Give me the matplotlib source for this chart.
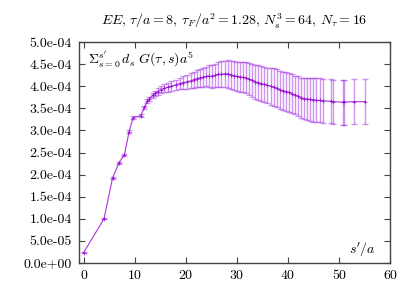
import matplotlib
matplotlib.use("Agg")
import matplotlib.pyplot as plt
from matplotlib.ticker import FixedLocator, FuncFormatter

plt.rcParams['mathtext.fontset'] = 'cm'
plt.rcParams['font.family'] = ['cmr10', 'DejaVu Serif']
plt.rcParams['axes.unicode_minus'] = False

# s'/a values
x_vals = [0, 4.0, 5.66, 6.93, 8.0, 8.9, 9.7, 11.2, 11.9, 12.5, 12.9, 13.5,
          14.0, 14.6, 15.2, 15.8, 16.5, 17.2, 18.0, 18.8, 19.5, 20.2, 21.0,
          21.6, 22.2, 22.8, 23.4, 24.0, 24.6, 25.2, 25.8, 26.4, 27.0, 27.6,
          28.2, 28.8, 29.4, 30.0, 30.6, 31.2, 31.8, 32.4, 33.0, 33.6, 34.2,
          34.8, 35.4, 36.0, 36.6, 37.2, 37.8, 38.4, 39.0, 39.6, 40.2, 40.8,
          41.4, 42.0, 42.6, 43.2, 43.8, 44.4, 45.0, 45.6, 46.2, 46.8, 48.4,
          48.9, 50.7, 51.0, 52.9, 55.2]
# sum values in units of 1e-4
y_vals = [0.235, 1.00, 1.92, 2.27, 2.45, 2.97, 3.29, 3.33, 3.52, 3.66, 3.72, 3.79,
          3.84, 3.88, 3.92, 3.95, 3.98, 4.00, 4.03, 4.06, 4.08, 4.10, 4.12,
          4.15, 4.17, 4.19, 4.20, 4.22, 4.23, 4.22, 4.25, 4.27, 4.27, 4.28,
          4.28, 4.26, 4.24, 4.22, 4.21, 4.20, 4.19, 4.16, 4.13, 4.10, 4.08,
          4.06, 4.04, 4.02, 4.00, 3.98, 3.95, 3.92, 3.90, 3.88, 3.86, 3.83,
          3.80, 3.77, 3.74, 3.72, 3.71, 3.70, 3.69, 3.68, 3.68, 3.67, 3.66,
          3.65, 3.64, 3.64, 3.65, 3.65]
# errors in units of 1e-4
y_errs = [0.01, 0.015, 0.02, 0.02, 0.025, 0.03, 0.03, 0.03, 0.035, 0.04, 0.045, 0.05,
          0.06, 0.07, 0.08, 0.09, 0.10, 0.11, 0.12, 0.13, 0.14, 0.16, 0.17,
          0.18, 0.19, 0.20, 0.21, 0.22, 0.24, 0.25, 0.26, 0.28, 0.29, 0.30,
          0.31, 0.32, 0.32, 0.33, 0.34, 0.34, 0.35, 0.36, 0.37, 0.38, 0.39,
          0.40, 0.40, 0.40, 0.42, 0.43, 0.43, 0.43, 0.43, 0.435, 0.435, 0.44,
          0.44, 0.45, 0.45, 0.46, 0.47, 0.48, 0.49, 0.50, 0.50, 0.50, 0.50,
          0.50, 0.51, 0.51, 0.51, 0.51]

y_ticks = [0.0, 0.5, 1.0, 1.5, 2.0, 2.5, 3.0, 3.5, 4.0, 4.5, 5.0]
y_tick_labels = ["0.0e+00", "5.0e-05", "1.0e-04", "1.5e-04", "2.0e-04", "2.5e-04",
                 "3.0e-04", "3.5e-04", "4.0e-04", "4.5e-04", "5.0e-04"]
x_ticks = [0, 10, 20, 30, 40, 50, 60]

scale = 1e-4
ys = [v * scale for v in y_vals]
es = [v * scale for v in y_errs]

fig = plt.figure(figsize=(4.15, 2.91), dpi=100)
ax = fig.add_axes([79/415, 1 - 263/291, (390-79)/415, (263-42)/291])

col = '#9400d3'
ax.errorbar(x_vals, ys, yerr=es, fmt='none', ecolor='#a030e0', alpha=0.5,
            elinewidth=1.0, capsize=2.0, capthick=1.0)
ax.plot(x_vals, ys, color=col, lw=0.8, alpha=0.8, marker='+', ms=2.5, mew=0.6)

ax.set_xlim(-0.9, 60)
ax.set_ylim(0, 5e-4)
ax.xaxis.set_major_locator(FixedLocator(x_ticks))
ax.yaxis.set_major_locator(FixedLocator([t * scale for t in y_ticks]))
ax.yaxis.set_major_formatter(FuncFormatter(
    lambda v, p: y_tick_labels[int(round(v / (0.5 * scale)))]))
ax.tick_params(direction='in', length=4, width=0.8, top=True, right=True,
               labelsize=10, pad=5, color='#444444')
for s in ax.spines.values():
    s.set_color('#444444')
    s.set_linewidth(1.0)

ax.text(0.03, 0.92, r"$\Sigma_{s=0}^{s'}\, d_s\ G(\tau,s)a^5$", transform=ax.transAxes,
        fontsize=10, ha='left', va='center')
ax.text(0.955, 0.065, r"$s'/a$", transform=ax.transAxes, fontsize=10,
        ha='right', va='center')
fig.text(0.565, 0.928,
         r"$EE,\, \tau/a = 8,\, \tau_F/a^2 = 1.28,\, N_s^3 = 64,\, N_\tau = 16$",
         fontsize=10, ha='center', va='center')

fig.savefig("out.png", dpi=100)
